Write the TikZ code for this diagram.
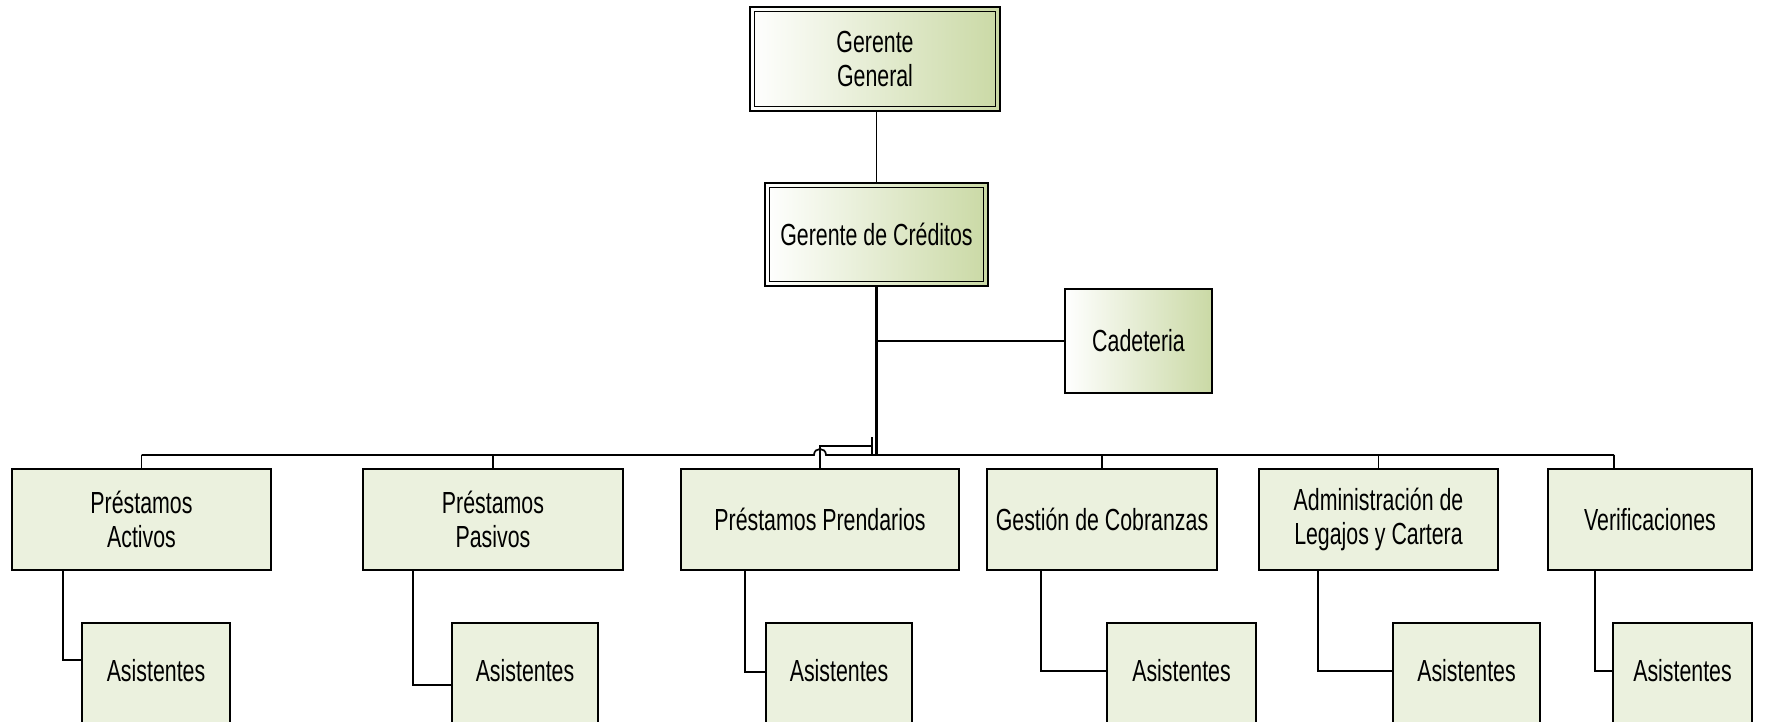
\documentclass[tikz,border=0pt]{standalone}
\usepackage{fontspec}
\setmainfont{Liberation Sans}[FakeStretch=0.70]
\definecolor{boxfill}{RGB}{235,241,222}
\definecolor{gradR}{RGB}{202,217,165}
\begin{document}
\begin{tikzpicture}[x=1pt,y=-1pt,
  every node/.style={font=\fontsize{30.5}{34}\selectfont, align=center, inner sep=0pt},
  unit/.style={draw, line width=1.8pt, fill=boxfill, minimum height=101pt},
  gradbox/.style={draw, line width=1.8pt, left color=white, right color=gradR},
  dbl/.style={path picture={\draw[line width=1.9pt] ([shift={(4.5,4.5)}]path picture bounding box.north west) rectangle ([shift={(-4.5,-4.5)}]path picture bounding box.south east);}},
  asist/.style={draw, line width=1.8pt, fill=boxfill, anchor=north, text height=59pt, text depth=81pt},
  conn/.style={line width=1.7pt},
  thick conn/.style={line width=2.6pt}
]
\useasboundingbox (0,0) rectangle (1767,721);
\clip (0,0) rectangle (1767,721);

% top nodes
\node[gradbox, dbl, minimum width=250pt, minimum height=104pt] (gg) at (875,59) {Gerente\\General};
\node[gradbox, dbl, minimum width=223pt, minimum height=103pt] (gc) at (876.5,234.5) {Gerente de Créditos};
\node[gradbox, minimum width=147pt, minimum height=104pt] (cad) at (1138.5,341) {Cadeteria};

% second level
\node[unit, minimum width=259pt] (pa) at (141.5,519.5) {Préstamos\\Activos};
\node[unit, minimum width=260pt] (pb) at (493,519.5) {Préstamos\\Pasivos};
\node[unit, minimum width=278pt] (pp) at (820,519.5) {Préstamos Prendarios};
\node[unit, minimum width=230pt] (co) at (1102,519.5) {Gestión de Cobranzas};
\node[unit, minimum width=239pt] (ad) at (1378.5,519.5) {Administración de\\Legajos y Cartera};
\node[unit, minimum width=204pt] (ve) at (1650,519.5) {Verificaciones};

% assistants
\node[asist, minimum width=148pt] (as1) at (156,622) {Asistentes};
\node[asist, minimum width=146pt] (as2) at (525,622) {Asistentes};
\node[asist, minimum width=146pt] (as3) at (839,622) {Asistentes};
\node[asist, minimum width=149pt] (as4) at (1181.5,622) {Asistentes};
\node[asist, minimum width=147pt] (as5) at (1466.5,622) {Asistentes};
\node[asist, minimum width=139pt] (as6) at (1682.5,622) {Asistentes};

% helper coordinates
\coordinate (bus) at (0,455);
\coordinate (hopL) at (814,455);
\coordinate (hopR) at (826,455);
\coordinate (jog) at (0,446);
\coordinate (tickT) at (872,437);
\coordinate (tickB) at (872,455);
\coordinate (veTop) at ([xshift=-36pt]ve.north);
\coordinate (k1) at (0,660);
\coordinate (k2) at (0,685);
\coordinate (k3) at (0,672);
\coordinate (k4) at (0,671);
\coordinate (k5) at (0,671);
\coordinate (k6) at (0,671);

% connectors
\draw[conn] (gg.south -| gc.north) -- (gc.north);
\draw[thick conn] (gc.south) -- (gc.south |- bus);
\draw[conn] (gc.south |- cad.west) -- (cad.west);
\draw[conn] (pa.north |- bus) -- (hopL) .. controls (814,447) and (826,447) .. (hopR) -- (veTop |- bus);
\draw[conn] (pa.north |- bus) -- (pa.north);
\draw[conn] (pb.north |- bus) -- (pb.north);
\draw[conn] (co.north |- bus) -- (co.north);
\draw[conn] (ad.north |- bus) -- (ad.north);
\draw[conn] (veTop |- bus) -- (veTop);
\draw[conn] (pp.north) -- (pp.north |- jog) -- (tickT |- jog);
\draw[conn] (tickT) -- (tickB);

\draw[conn] ([xshift=52pt]pa.south west) |- (as1.west |- k1);
\draw[conn] ([xshift=51pt]pb.south west) |- (as2.west |- k2);
\draw[conn] ([xshift=65pt]pp.south west) |- (as3.west |- k3);
\draw[conn] ([xshift=55pt]co.south west) |- (as4.west |- k4);
\draw[conn] ([xshift=60pt]ad.south west) |- (as5.west |- k5);
\draw[conn] ([xshift=48pt]ve.south west) |- (as6.west |- k6);
\end{tikzpicture}
\end{document}
